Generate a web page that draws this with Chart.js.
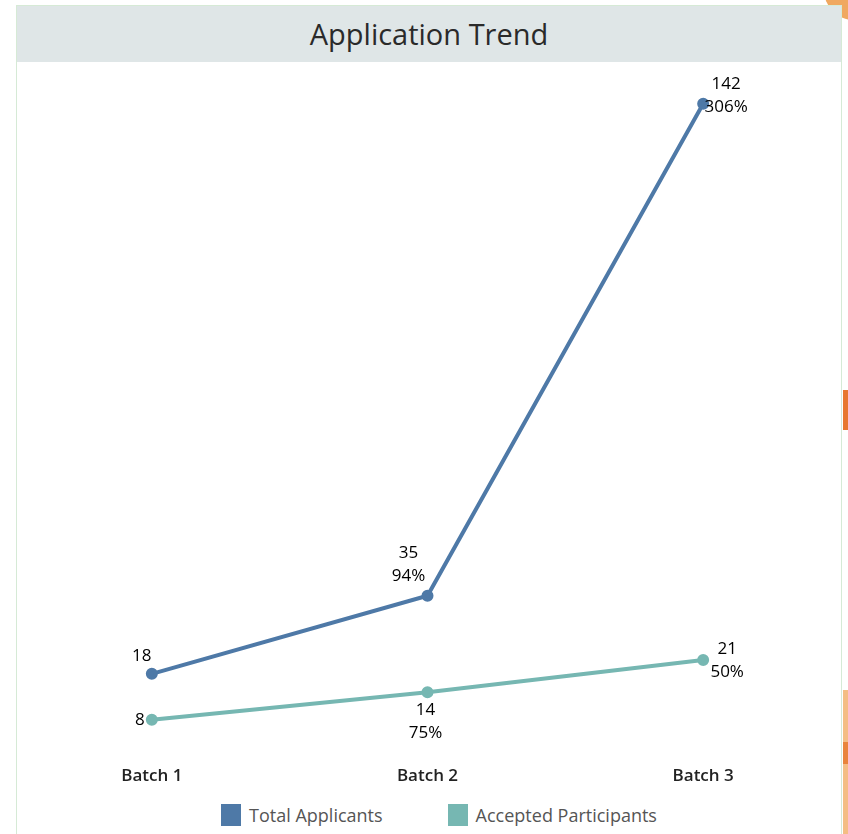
<!DOCTYPE html>
<html>
<head>
<meta charset="utf-8">
<title>Application Trend</title>
<script src="https://cdn.jsdelivr.net/npm/chart.js@4.4.1/dist/chart.umd.min.js"></script>
<style>
  body { margin: 0; width: 848px; height: 834px; overflow: hidden; position: relative; background: #fff; font-family: 'Open Sans', sans-serif; }
  #frame { position: absolute; left: 16px; top: 5px; width: 826px; height: 860px; border: 1px solid #d6ead6; box-sizing: border-box; }
  #title { position: absolute; left: 17px; top: 6px; width: 824px; height: 56px; background: #dfe6e7; text-align: center; line-height: 56px; font-size: 29px; color: #2a2a2a; }
  #chartBox { position: absolute; left: 14px; top: 62px; width: 827px; height: 733px; }
  #legend { position: absolute; left: 0; top: 803px; width: 878px; display: flex; justify-content: center; gap: 65px; }
  .item { display: flex; align-items: center; font-size: 18px; color: #555; }
  .swatch { width: 20px; height: 22px; margin-right: 8px; }
  .deco { position: absolute; }
</style>
</head>
<body>
<div class="deco" style="left:824px;top:-40px;width:60px;height:60px;border-radius:50%;background:#f0a860;"></div>
<div class="deco" style="left:843px;top:390px;width:5px;height:40px;background:#e8772e;"></div>
<div class="deco" style="left:843px;top:690px;width:5px;height:144px;background:#f4bd84;"></div>
<div class="deco" style="left:843px;top:742px;width:5px;height:22px;background:#e9843c;"></div>
<div id="frame"></div>
<div id="title">Application Trend</div>
<div id="chartBox"><canvas id="trendChart"></canvas></div>
<div id="legend"></div>
<script>
// 数据
const batches = ['Batch 1', 'Batch 2', 'Batch 3'];
const totalApplicants = [18, 35, 142];
const acceptedParticipants = [8, 14, 21];
const totalGrowth = ['', '94%', '306%'];
const acceptedGrowth = ['', '75%', '50%'];

const BLUE = '#4e79a7';
const TEAL = '#76b7b2';

// 每个标签相对点的偏移
const totalOffsets = [[-10, -18], [-19, -43], [23, -20]];
const acceptedOffsets = [[-12, 0], [-2, 18], [24, -11]];

// 点旁边的数值标签
const valueLabels = {
  id: 'valueLabels',
  afterDatasetsDraw(chart) {
    const ctx = chart.ctx;
    ctx.save();
    ctx.font = '17px "Open Sans"';
    ctx.fillStyle = '#000';
    ctx.textAlign = 'center';
    ctx.textBaseline = 'middle';
    chart.data.datasets.forEach((ds, i) => {
      chart.getDatasetMeta(i).data.forEach((pt, j) => {
        const off = ds.labelOffsets[j];
        const lines = [String(ds.data[j])];
        if (ds.growth[j]) lines.push(ds.growth[j]);
        lines.forEach((t, k) => ctx.fillText(t, pt.x + off[0], pt.y + off[1] + k * 23));
      });
    });
    ctx.restore();
  }
};

const chart = new Chart(document.getElementById('trendChart'), {
  type: 'line',
  data: {
    labels: batches,
    datasets: [
      {
        label: 'Total Applicants',
        data: totalApplicants,
        growth: totalGrowth,
        labelOffsets: totalOffsets,
        borderColor: BLUE,
        backgroundColor: BLUE,
        borderWidth: 4,
        pointRadius: 4,
        tension: 0,
      },
      {
        label: 'Accepted Participants',
        data: acceptedParticipants,
        growth: acceptedGrowth,
        labelOffsets: acceptedOffsets,
        borderColor: TEAL,
        backgroundColor: TEAL,
        borderWidth: 4,
        pointRadius: 4,
        tension: 0,
      }
    ]
  },
  options: {
    responsive: true,
    maintainAspectRatio: false,
    animation: false,
    layout: { autoPadding: false, padding: { top: 5, bottom: 8, left: 0, right: 0 } },
    plugins: {
      legend: { display: false },
      tooltip: { enabled: false }
    },
    scales: {
      x: {
        offset: true,
        grid: { display: false },
        border: { display: false },
        ticks: { color: '#222', padding: 1, font: { family: 'Open Sans', size: 17, weight: '600' } }
      },
      y: {
        display: false,
        min: 0,
        max: 150
      }
    }
  },
  plugins: [valueLabels]
});

// 图例
document.getElementById('legend').innerHTML = chart.data.datasets.map(ds => `
  <div class="item"><span class="swatch" style="background:${ds.borderColor}"></span>${ds.label}</div>
`).join('');
</script>
</body>
</html>
